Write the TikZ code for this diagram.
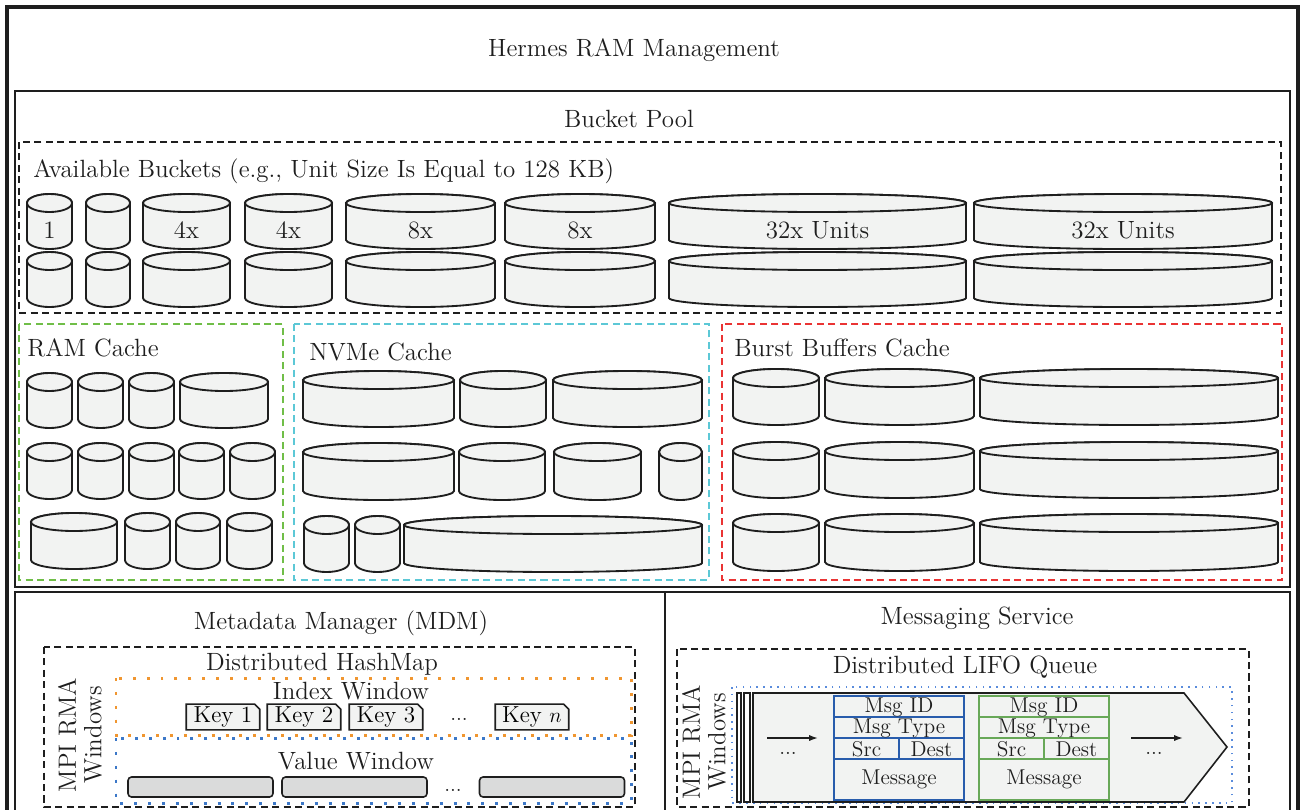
\documentclass[tikz,border=0pt]{standalone}
\usepackage{tikz}
\usetikzlibrary{shapes.misc,arrows.meta}

\definecolor{inkc}{RGB}{30,30,30}
\definecolor{bucketfill}{RGB}{242,243,242}
\definecolor{valuegray}{RGB}{218,219,219}
\definecolor{ramgreen}{RGB}{112,190,72}
\definecolor{nvmecyan}{RGB}{92,200,214}
\definecolor{burstred}{RGB}{234,52,52}
\definecolor{idxorange}{RGB}{240,150,48}
\definecolor{valblue}{RGB}{60,120,200}
\definecolor{lifoblue}{RGB}{90,140,220}
\definecolor{msgblue}{RGB}{40,92,172}
\definecolor{msggreen}{RGB}{104,168,88}

% one bucket: x left, x right, y top, y bottom, label
\newcommand{\bucket}[5]{%
  \filldraw[bucket] (#1,#3+9) -- (#1,#4-9)
    arc[start angle=180,end angle=0,x radius={(#2-#1)/2},y radius=9]
    -- (#2,#3+9)
    arc[start angle=0,end angle=-180,x radius={(#2-#1)/2},y radius=9] -- cycle;
  \draw[bucket] ({(#1+#2)/2},#3+9) ellipse[x radius={(#2-#1)/2},y radius=9];
  \node[lbl] (bk-#1-#3) at ({(#1+#2)/2},{(#3+18+#4)/2}) {#5};
}

\begin{document}
\begin{tikzpicture}[x=0.02cm,y=-0.02cm,
    bucket/.style={draw=inkc,fill=bucketfill,line width=1.05pt},
    lbl/.style={font=\fontsize{14.2}{16}\selectfont,inner sep=0pt,text=inkc},
    small/.style={font=\fontsize{12.2}{14}\selectfont,inner sep=0pt,text=inkc},
    frame/.style={draw=inkc,line width=1pt},
    dashbox/.style={line width=0.9pt,dash pattern=on 4pt off 2.5pt},
    dotbox/.style={line width=1.7pt,dash pattern=on 1.7pt off 6.2pt},
    keybox/.style={chamfered rectangle,chamfered rectangle corners=north east,
        chamfered rectangle xsep=1.5pt,chamfered rectangle ysep=1.5pt,
        draw=inkc,fill=bucketfill,line width=0.9pt,minimum width=1.47cm,
        minimum height=0.36cm,inner sep=0pt,font=\fontsize{13.2}{14}\selectfont},
    valuebar/.style={draw=inkc,fill=valuegray,rounded corners=2pt,line width=0.9pt,
        minimum width=2.9cm,minimum height=0.4cm,inner sep=0pt},
    msgcell/.style={line width=1.2pt}]
    \useasboundingbox (0,0) rectangle (1302,809);
    \clip (0,0) rectangle (1302,809);
    \fill[white] (0,0) rectangle (1302,809);

    % frames
    \draw[inkc,line width=1.8pt] (7,7) rectangle (1298,840);
    \node[lbl] (hermes) at (634,50) {Hermes RAM Management};
    \draw[frame] (15,91) rectangle (1290,587);
    \node[lbl] (pool) at (629,119) {Bucket Pool};

    % available buckets
    \draw[dashbox,inkc] (19,142) rectangle (1281,313);
    \node[lbl,anchor=west] (avail) at (33,171) {Available Buckets (e.g., Unit Size Is Equal to 128 KB)};
    \foreach \a/\b/\t in {27/72/1, 86/130/{}, 143/230/4x, 245/332/4x, 346/495/8x,
                          505/655/8x, 669/966/32x Units, 974/1272/32x Units}{
        \bucket{\a}{\b}{194}{249}{\t}
        \bucket{\a}{\b}{252}{307}{}
    }

    % RAM cache
    \draw[dashbox,ramgreen] (19,324) rectangle (283,580);
    \node[lbl,anchor=west] (ram) at (27,348) {RAM Cache};
    \foreach \a/\b in {27/72, 78/123, 129/174, 180/268}
        {\bucket{\a}{\b}{373}{428}{}}
    \foreach \a/\b in {27/72, 78/123, 129/174, 179/224, 230/275}
        {\bucket{\a}{\b}{443}{499}{}}
    \foreach \a/\b in {31/117, 125/170, 176/220, 227/272}
        {\bucket{\a}{\b}{513}{569}{}}

    % NVMe cache
    \draw[dashbox,nvmecyan] (294,324) rectangle (709,580);
    \node[lbl,anchor=west] (nvme) at (309,352) {NVMe Cache};
    \foreach \a/\b in {303/454, 460/546, 553/702}
        {\bucket{\a}{\b}{371}{427}{}}
    \foreach \a/\b in {303/454, 459/545, 554/641, 659/702}
        {\bucket{\a}{\b}{443}{500}{}}
    \foreach \a/\b in {304/349, 355/400, 404/702}
        {\bucket{\a}{\b}{516}{572}{}}

    % burst buffers cache
    \draw[dashbox,burstred] (722,324) rectangle (1282,580);
    \node[lbl,anchor=west] (burst) at (734,348) {Burst Buffers Cache};
    \foreach \y/\z in {369/425, 442/498, 514/571}{
        \foreach \a/\b in {733/819, 825/974, 980/1278}
            {\bucket{\a}{\b}{\y}{\z}{}}
    }

    % metadata manager
    \draw[frame] (15,592) rectangle (665,840);
    \node[lbl] (mdm) at (341,623) {Metadata Manager (MDM)};
    \draw[dashbox,inkc] (44,647) rectangle (635,807);
    \node[lbl] (hashmap) at (322,664) {Distributed HashMap};
    \node[lbl,rotate=90,align=center,font=\fontsize{14.2}{14.5}\selectfont] (rmal) at (80,735) {MPI RMA\\Windows};
    \draw[dotbox,idxorange] (116,678) rectangle (631,735);
    \node[lbl] (idx) at (351,691) {Index Window};
    \node[keybox] (k1) at (223,717) {Key 1};
    \node[keybox] (k2) at (304,717) {Key 2};
    \node[keybox] (k3) at (386,717) {Key 3};
    \node[small] (kdots) at (459,719) {...};
    \node[keybox] (kn) at (532,717) {Key $n$};
    \draw[dotbox,valblue] (116,738) rectangle (631,803);
    \node[lbl] (val) at (356,761) {Value Window};
    \node[valuebar] (v1) at (200.5,787) {};
    \node[valuebar] (v2) at (354.5,787) {};
    \node[small] (vdots) at (453,790) {...};
    \node[valuebar] (vn) at (552,787) {};

    % messaging service
    \draw[frame] (665,592) rectangle (1290,840);
    \node[lbl] (msg) at (977,618) {Messaging Service};
    \draw[dashbox,inkc] (677,649) rectangle (1249,807);
    \node[lbl] (lifo) at (965,667) {Distributed LIFO Queue};
    \node[lbl,rotate=90,align=center,font=\fontsize{14.2}{14.5}\selectfont] (rmar) at (704,742) {MPI RMA\\Windows};
    \draw[lifoblue,line width=0.9pt,dash pattern=on 0.9pt off 3pt] (732,687) rectangle (1232,803);
    \draw[inkc,line width=0.9pt,fill=white] (737,693) rectangle (741,802);
    \draw[inkc,line width=0.9pt,fill=white] (744,693) rectangle (750,802);
    \draw[inkc,line width=0.9pt,fill=bucketfill] (753,693) -- (1184,693) -- (1227,747)
        -- (1184,802) -- (753,802) -- cycle;

    % two messages
    \foreach \x/\s/\c/\n in {834/899/msgblue/m1, 979/1044/msggreen/m2}{
        \draw[msgcell,\c,fill=bucketfill] (\x,696) rectangle (\x+130,800);
        \draw[msgcell,\c] (\x,717) -- (\x+130,717)
            (\x,738) -- (\x+130,738) (\x,759) -- (\x+130,759) (\s,738) -- (\s,759);
        \node[small] (\n-id) at (\x+65,707) {Msg ID};
        \node[small] (\n-type) at (\x+65,728) {Msg Type};
        \node[small] (\n-src) at ({(\x+\s)/2},749) {Src};
        \node[small] (\n-dest) at ({(\s+\x+130)/2},749) {Dest};
        \node[small] (\n-body) at (\x+65,779) {Message};
    }

    % flow arrows
    \coordinate (in-a) at (767,738);
    \coordinate (in-b) at (818,738);
    \coordinate (out-a) at (1131,738);
    \coordinate (out-b) at (1183,738);
    \draw[inkc,line width=0.9pt,-{Latex[length=5pt,width=3.5pt]}] (in-a) -- (in-b);
    \draw[inkc,line width=0.9pt,-{Latex[length=5pt,width=3.5pt]}] (out-a) -- (out-b);
    \node[small] (indots) at (788,753) {...};
    \node[small] (outdots) at (1154,753) {...};
\end{tikzpicture}
\end{document}
